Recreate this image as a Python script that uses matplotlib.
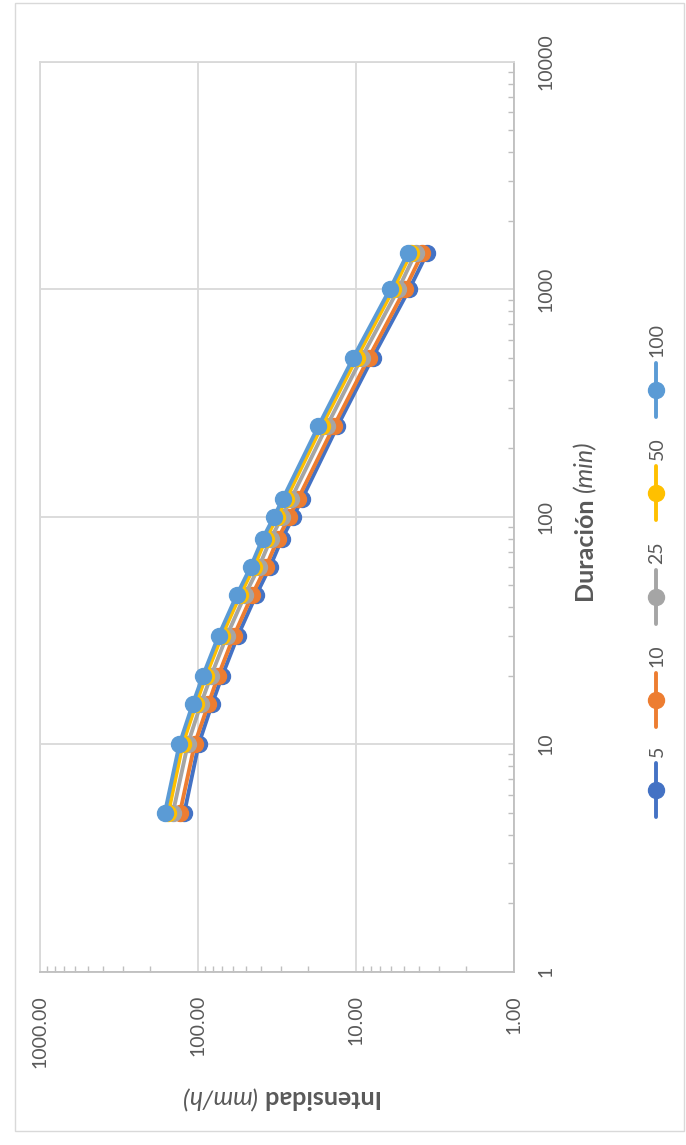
import matplotlib
matplotlib.use("Agg")
import matplotlib.pyplot as plt
from matplotlib.lines import Line2D
from matplotlib.patches import Rectangle
from matplotlib.ticker import LogLocator, NullFormatter

# ---------------------------------------------------------------- data
duracion = [5, 10, 15, 20, 30, 45, 60, 80, 100, 120, 250, 500, 1000, 1440]  # min
periodos = ["5", "10", "25", "50", "100"]
i_t5 = [122, 99, 81.5, 70.2, 55.9, 43.0, 35.1, 29.4, 24.9, 21.9, 13.1, 7.85, 4.6, 3.55]
i_t10 = [130, 105, 86.0, 74.4, 59.2, 45.6, 37.2, 31.2, 26.4, 23.2, 13.8, 8.3, 4.9, 3.8]
i_t25 = [144, 116, 96.0, 82.5, 65.6, 50.6, 41.2, 34.6, 29.3, 25.7, 15.3, 9.2, 5.4, 4.2]
i_t50 = [154, 125, 103, 89.0, 70.5, 54.3, 44.3, 37.2, 31.5, 27.6, 16.5, 9.9, 5.8, 4.5]
i_t100 = [162, 131, 108, 93.0, 74.0, 57.0, 46.5, 39.0, 33.0, 29.0, 17.3, 10.4, 6.1, 4.7]
series = [i_t5, i_t10, i_t25, i_t50, i_t100]

int_ticks = [1000, 100, 10, 1]
int_labels = ["1000.00", "100.00", "10.00", "1.00"]
dur_ticks = [1, 10, 100, 1000, 10000]
dur_labels = ["1", "10", "100", "1000", "10000"]

# Excel default palette
COLORS = ["#4472C4", "#ED7D31", "#A5A5A5", "#FFC000", "#5B9BD5"]
TXT = "#595959"
GRID = "#D9D9D9"
AXIS = "#BFBFBF"

W, H = 686, 1145


def fx(px):
    return px / W


def fy(py):
    return 1 - py / H


plt.rcParams["font.family"] = ["Lato", "DejaVu Sans"]
fig = plt.figure(figsize=(W / 100, H / 100), dpi=100)
fig.patch.set_facecolor("white")

# outer chart border
fig.add_artist(Rectangle((fx(15), fy(1131)), fx(684) - fx(15), fy(3) - fy(1131),
                         transform=fig.transFigure, fill=False, ec=GRID, lw=1.0))

# chart is drawn rotated 90 degrees: intensity runs along the bottom, duration up the right
ax = fig.add_axes([fx(40), fy(971.5), fx(514) - fx(40), fy(61.7) - fy(971.5)])

for vals, color in zip(series, COLORS):
    ax.plot(vals, duracion, color=color, lw=2.8, marker="o", ms=11.5,
            mec=color, mfc=color, solid_capstyle="round", solid_joinstyle="round",
            zorder=3)

ax.set_xscale("log")
ax.set_yscale("log")
ax.set_xlim(1000, 1)
ax.set_ylim(1, 10000)

ax.yaxis.tick_right()
ax.set_xticks(int_ticks)
ax.set_xticklabels(int_labels, rotation=90, fontsize=14, color=TXT)
ax.set_yticks(dur_ticks)
ax.set_yticklabels(dur_labels, rotation=90, va="center", fontsize=14, color=TXT)

ax.xaxis.set_minor_locator(LogLocator(base=10, subs=range(2, 10)))
ax.yaxis.set_minor_locator(LogLocator(base=10, subs=range(2, 10)))
ax.xaxis.set_minor_formatter(NullFormatter())
ax.yaxis.set_minor_formatter(NullFormatter())

ax.tick_params(which="major", length=0)
ax.tick_params(axis="x", which="major", pad=17)
ax.tick_params(axis="y", which="major", pad=17)
ax.tick_params(which="minor", direction="in", length=4, width=1, color=AXIS)
ax.tick_params(axis="x", which="minor", top=False, bottom=True)
ax.tick_params(axis="y", which="minor", left=False, right=True)

ax.grid(True, which="major", color=GRID, lw=1.3, zorder=0)
ax.set_axisbelow(True)
for s in ("top", "left"):
    ax.spines[s].set_color(GRID)
    ax.spines[s].set_linewidth(1.3)
for s in ("bottom", "right"):
    ax.spines[s].set_color(AXIS)
    ax.spines[s].set_linewidth(1.3)

# axis titles (rotated with the chart)
t1 = fig.text(fx(585), fy(600), "Duración", rotation=90, ha="center", va="bottom",
              fontsize=18, fontweight="bold", color=TXT)
fig.canvas.draw()
ax.annotate("(min)", xy=(0.5, 1), xycoords=t1, xytext=(0, 4), textcoords="offset points",
            rotation=90, ha="center", va="bottom", fontsize=18, fontstyle="italic",
            color=TXT, annotation_clip=False)

t2 = fig.text(fx(378), fy(1097), "Intensidad", rotation=180, ha="right", va="center",
              fontsize=18, fontweight="bold", color=TXT)
ax.annotate("(mm/h)", xy=(0, 0.5), xycoords=t2, xytext=(-4, 0), textcoords="offset points",
            rotation=180, ha="right", va="center", fontsize=18, fontstyle="italic",
            color=TXT, annotation_clip=False)

# legend, drawn by hand so it can be rotated with the chart
leg_y = [790, 700, 597, 493, 390]
leg_x = 656
for lab, color, ym in zip(periodos, COLORS, leg_y):
    fig.add_artist(Line2D([fx(leg_x), fx(leg_x)], [fy(ym + 27), fy(ym - 27)],
                          transform=fig.transFigure, color=color, lw=2.8,
                          solid_capstyle="round"))
    fig.add_artist(Line2D([fx(leg_x)], [fy(ym)], transform=fig.transFigure,
                          marker="o", ms=11.5, color=color, lw=0))
    fig.text(fx(leg_x + 1), fy(ym - 33), lab, rotation=90, ha="center", va="bottom",
             fontsize=14, color=TXT)

fig.savefig("out.png", dpi=100, facecolor="white")
